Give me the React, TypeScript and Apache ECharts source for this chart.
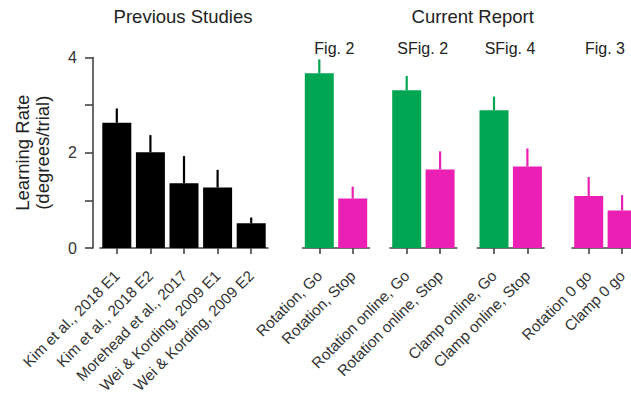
import React, { useEffect, useRef } from "react";
import * as echarts from "echarts";

const prevCats = ["Kim et al., 2018 E1", "Kim et al., 2018 E2", "Morehead et al., 2017", "Wei & Kording, 2009 E1", "Wei & Kording, 2009 E2"];
const prevMeans = [2.63, 2.01, 1.36, 1.27, 0.52];
const prevUpper = [2.93, 2.37, 1.93, 1.64, 0.64];

const fig2Cats = ["Rotation, Go", "Rotation, Stop"];
const fig2Means = [3.67, 1.04];
const fig2Upper = [3.96, 1.29];

const sfig2Cats = ["Rotation online, Go", "Rotation online, Stop"];
const sfig2Means = [3.31, 1.65];
const sfig2Upper = [3.61, 2.03];

const sfig4Cats = ["Clamp online, Go", "Clamp online, Stop"];
const sfig4Means = [2.89, 1.71];
const sfig4Upper = [3.18, 2.09];

const fig3Cats = ["Rotation 0 go", "Clamp 0 go"];
const fig3Means = [1.09, 0.79];
const fig3Upper = [1.49, 1.11];

const yTicks = [0, 1, 2, 3, 4];
const groupTitles = ["Fig. 2", "SFig. 2", "SFig. 4", "Fig. 3"];

const BLACK = "#000000";
const GREEN = "#00a651";
const MAGENTA = "#ec1fb4";
const FONT = "'Liberation Sans', Arial, Helvetica, sans-serif";

const groups = [
  { cats: prevCats, means: prevMeans, upper: prevUpper, colors: [BLACK, BLACK, BLACK, BLACK, BLACK], left: 100, width: 168 },
  { cats: fig2Cats, means: fig2Means, upper: fig2Upper, colors: [GREEN, MAGENTA], left: 302.6, width: 66.8 },
  { cats: sfig2Cats, means: sfig2Means, upper: sfig2Upper, colors: [GREEN, MAGENTA], left: 390, width: 66.8 },
  { cats: sfig4Cats, means: sfig4Means, upper: sfig4Upper, colors: [GREEN, MAGENTA], left: 477.3, width: 66.8 },
  { cats: fig3Cats, means: fig3Means, upper: fig3Upper, colors: [MAGENTA, MAGENTA], left: 572, width: 66.8 },
];

const TOP = 57.5;
const HEIGHT = 190.5;

export default function App() {
  const ref = useRef<HTMLDivElement>(null);
  useEffect(() => {
    if (!ref.current) return;
    const chart = echarts.init(ref.current, null, { renderer: "svg" });
    const axisColor = "#444444";
    const grid = groups.map((g) => ({
      left: g.left,
      top: TOP,
      width: g.width,
      height: HEIGHT,
      containLabel: false,
      outerBoundsMode: "none",
    }));
    const xAxis = groups.map((g, i) => ({
      type: "category",
      gridIndex: i,
      data: g.cats,
      offset: 6,
      axisLine: { show: true, lineStyle: { color: axisColor, width: 1.6 } },
      axisTick: { show: true, alignWithLabel: true, length: 6, lineStyle: { color: axisColor, width: 1.6 } },
      axisLabel: {
        interval: 0,
        rotate: 45,
        margin: 19,
        fontSize: 15.3,
        padding: [10, 0, 0, 0],
        color: "#333333",
        fontFamily: FONT,
        verticalAlign: "middle",
        hideOverlap: false,
      },
      splitLine: { show: false },
    }));
    const yAxis = groups.map((g, i) => ({
      type: "value",
      gridIndex: i,
      min: yTicks[0],
      max: yTicks[yTicks.length - 1],
      interval: 1,
      show: i === 0,
      offset: 7,
      name: i === 0 ? "Learning Rate\n(degrees/trial)" : "",
      nameLocation: "middle",
      nameRotate: 90,
      nameGap: 40.5,
      nameTextStyle: { fontSize: 18.5, color: "#222222", fontFamily: FONT, lineHeight: 20 },
      axisLine: { show: true, lineStyle: { color: axisColor, width: 1.6 } },
      axisTick: { show: true, length: 8, lineStyle: { color: axisColor, width: 1.6 } },
      axisLabel: {
        margin: 16,
        fontSize: 16,
        color: "#333333",
        fontFamily: FONT,
        formatter: (v: number) => (v % 2 === 0 ? String(v) : ""),
      },
      splitLine: { show: false },
    }));
    const series: any[] = [];
    groups.forEach((g, i) => {
      series.push({
        type: "bar",
        xAxisIndex: i,
        yAxisIndex: i,
        barWidth: 29,
        data: g.means.map((v, j) => ({ value: v, itemStyle: { color: g.colors[j] } })),
      });
      series.push({
        type: "custom",
        xAxisIndex: i,
        yAxisIndex: i,
        encode: { x: 0, y: [1, 2] },
        data: g.means.map((v, j) => [j, v, g.upper[j]]),
        renderItem: (params: any, api: any) => {
          const p0 = api.coord([api.value(0), api.value(1)]);
          const p1 = api.coord([api.value(0), api.value(2)]);
          return {
            type: "line",
            shape: { x1: p0[0], y1: p0[1], x2: p1[0], y2: p1[1] },
            style: { stroke: g.colors[params.dataIndex], lineWidth: 2.2 },
          };
        },
        z: 3,
      });
    });
    const subCenters = [334.3, 422.7, 510, 605];
    const titleStyle = (text: string, size: number) => ({
      text,
      fontSize: size,
      fontFamily: FONT,
      fill: "#222222",
      align: "center",
      verticalAlign: "middle",
      textAlign: "center",
      textVerticalAlign: "middle",
    });
    const graphic: any[] = [
      { type: "text", x: 183, y: 16, style: titleStyle("Previous Studies", 18.5) },
      { type: "text", x: 472.7, y: 16, style: titleStyle("Current Report", 18.5) },
      ...groupTitles.map((t, k) => ({ type: "text", x: subCenters[k], y: 48, style: titleStyle(t, 16) })),
    ];
    chart.setOption({
      animation: false,
      backgroundColor: "#ffffff",
      grid,
      xAxis,
      yAxis,
      series,
      graphic,
    });
    return () => chart.dispose();
  }, []);
  return <div ref={ref} style={{ position: "fixed", left: 0, top: 0, width: 631, height: 398 }} />;
}
